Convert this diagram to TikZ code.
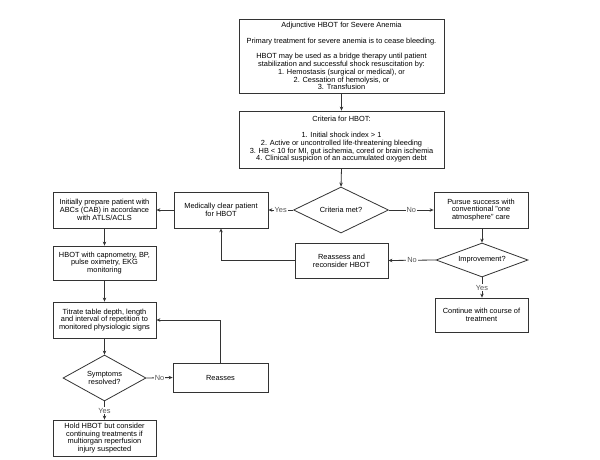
\documentclass[tikz,border=0pt]{standalone}
\usepackage{fontspec}
\setmainfont{Liberation Sans}
\usetikzlibrary{shapes.geometric,arrows.meta}
\definecolor{ln}{HTML}{333333}
\definecolor{lbl}{HTML}{555555}
\tikzset{
  box/.style={draw=ln,line width=0.8pt,rectangle,align=center,inner sep=1pt,
    font=\fontsize{7.4}{7.8}\selectfont,text=black},
  dia/.style={draw=ln,line width=0.8pt,diamond,align=center,inner sep=0pt,
    font=\fontsize{7.4}{7.8}\selectfont,text=black},
  conn/.style={draw=ln,line width=0.8pt,-{Stealth[length=4pt,width=3.5pt]}},
  elbl/.style={fill=white,inner sep=1pt,font=\fontsize{7.4}{7.8}\selectfont,text=lbl}
}
\begin{document}
\begin{tikzpicture}[x=1pt,y=-1pt]
\useasboundingbox[fill=white] (0,0) rectangle (600,459);
\node[box,minimum width=205pt,minimum height=74pt] (top) at (341.5,56)
 {Adjunctive HBOT for Severe Anemia\\[7.8pt]
  Primary treatment for severe anemia is to cease bleeding.\\[7.8pt]
  HBOT may be used as a bridge therapy until patient\\
  stabilization and successful shock resuscitation by:\\
  1. Hemostasis (surgical or medical), or\\
  2. Cessation of hemolysis, or\\
  3. Transfusion};
\node[box,minimum width=205pt,minimum height=57pt] (crit) at (341.5,139.5)
 {Criteria for HBOT:\\[7.8pt]
  1. Initial shock index > 1\\
  2. Active or uncontrolled life-threatening bleeding\\
  3. HB < 10 for MI, gut ischemia, cored or brain ischemia\\
  4. Clinical suspicion of an accumulated oxygen debt};
\node[dia,aspect=2,minimum width=95pt,minimum height=46pt] (met) at (341,210) {Criteria met?};
\node[box,minimum width=94pt,minimum height=36pt] (med) at (221,210)
 {Medically clear patient\\for HBOT};
\node[box,minimum width=103pt,minimum height=36pt] (init) at (104.5,210)
 {Initially prepare patient with\\ABCs (CAB) in accordance\\with ATLS/ACLS};
\node[box,minimum width=103pt,minimum height=34pt] (hbot) at (104.5,263)
 {HBOT with capnometry, BP,\\pulse oximetry, EKG\\monitoring};
\node[box,minimum width=103pt,minimum height=36pt] (titr) at (104.5,320)
 {Titrate table depth, length\\and interval of repetition to\\monitored physiologic signs};
\node[dia,aspect=1.8,minimum width=83pt,minimum height=46pt] (symp) at (104.5,378)
 {Symptoms\\resolved?};
\node[box,minimum width=95pt,minimum height=29pt] (reas) at (220.5,377.5) {Reasses};
\node[box,minimum width=103pt,minimum height=36pt] (hold) at (104.5,438)
 {Hold HBOT but consider\\continuing treatments if\\multiorgan reperfusion\\injury suspected};
\node[box,minimum width=94pt,minimum height=36pt] (purs) at (481,210)
 {Pursue success with\\conventional "one\\atmosphere" care};
\node[dia,aspect=2.7,minimum width=92pt,minimum height=34pt] (impr) at (482,260) {Improvement?};
\node[box,minimum width=93pt,minimum height=35pt] (rec) at (341.5,260.5)
 {Reassess and\\reconsider HBOT};
\node[box,minimum width=93pt,minimum height=34pt] (cont) at (481.5,315)
 {Continue with course of\\treatment};
\draw[conn] (top.south -| crit.north) -- (crit.north);
\draw[conn] (crit.south) -- (met.north);
\draw[conn] (met.west) -- node[elbl]{Yes} (med.east);
\draw[conn] (met.east) -- node[elbl]{No} (purs.west);
\draw[conn] (med.west) -- (init.east);
\draw[conn] (init.south) -- (hbot.north);
\draw[conn] (hbot.south) -- (titr.north);
\draw[conn] (titr.south) -- (symp.north);
\draw[conn] (symp.east) -- node[elbl]{No} (reas.west);
\draw[conn] (symp.south) -- node[elbl]{Yes} (hold.north);
\draw[conn] (reas.north) |- (titr.east);
\draw[conn] (purs.south -| impr.north) -- (impr.north);
\draw[conn] (impr.west) -- node[elbl]{No} (rec.east);
\draw[conn] (impr.south) -- node[elbl]{Yes} (impr.south |- cont.north);
\draw[conn] (rec.west) -| (med.south);
\end{tikzpicture}
\end{document}
